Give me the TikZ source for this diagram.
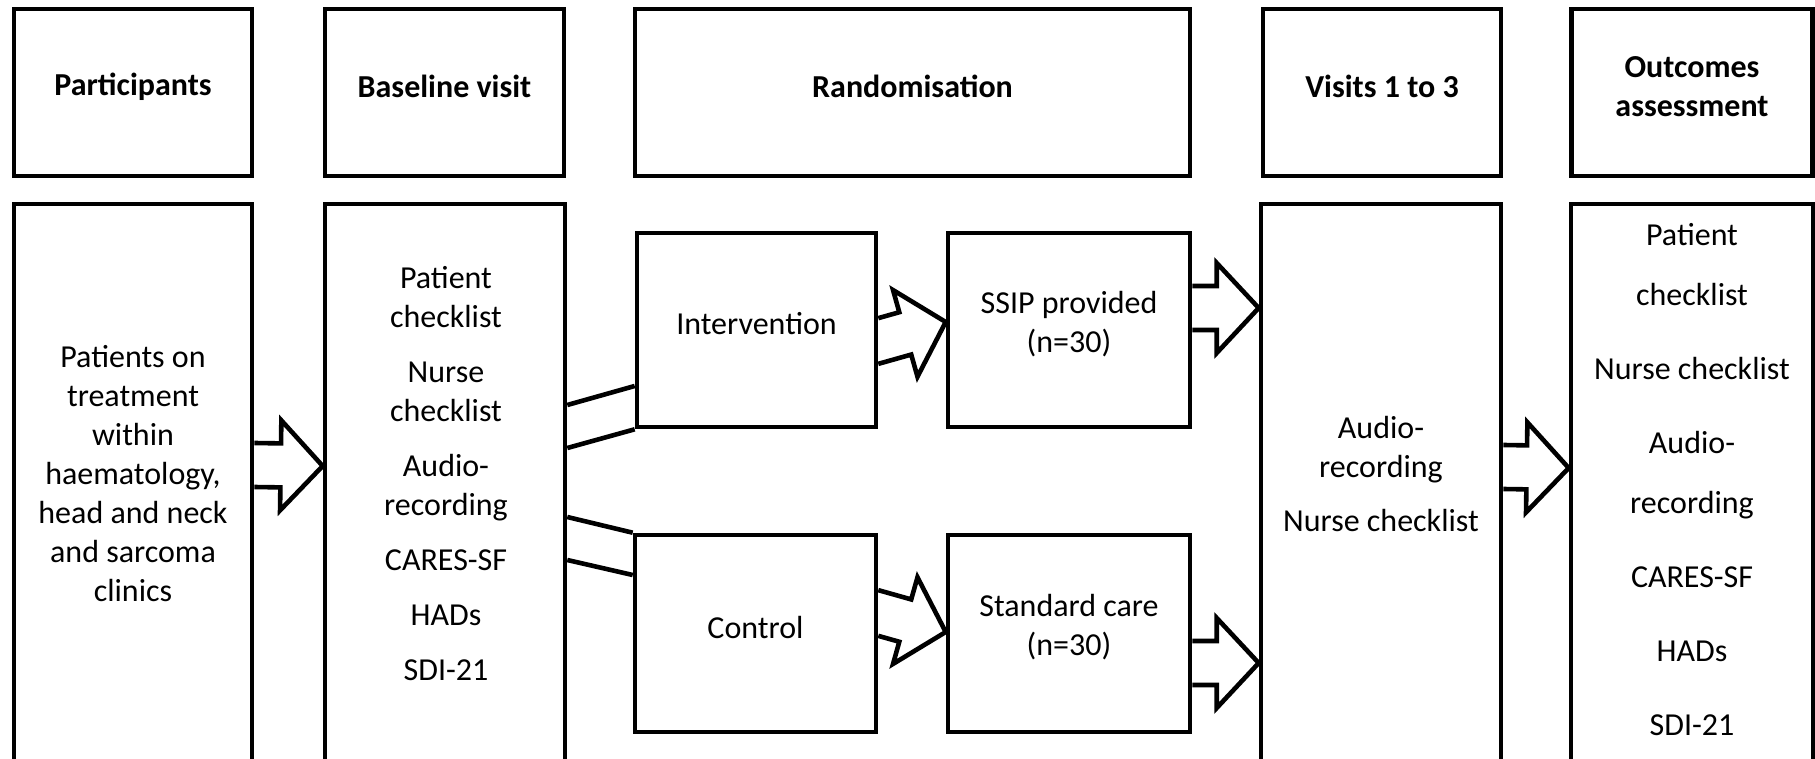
\documentclass[tikz,border=0pt]{standalone}
\usepackage{fontspec}
\setmainfont{Carlito}
\usepackage{tikz}
\usetikzlibrary{calc}

\begin{document}
\begin{tikzpicture}[
    x=0.5pt, y=-0.5pt,
    every node/.style={font=\fontsize{16}{19.5}\selectfont},
    hdr/.style={draw, rectangle, line width=2.3pt, minimum height=83.5pt, inner sep=0pt},
    col/.style={draw, rectangle, line width=2.3pt, minimum height=298pt, inner sep=0pt},
    arm/.style={draw, rectangle, line width=2.3pt, minimum height=97pt, inner sep=0pt},
    txt/.style={align=center, inner sep=0pt},
    htxt/.style={txt, font=\fontsize{16}{19.5}\selectfont\bfseries},
    band/.style={line width=2.3pt},
    fat/.style={line width=2.3pt, line join=miter,
      to path={let \p1=($(\tikztotarget)-(\tikztostart)$),
                   \n1={atan2(\y1,\x1)}, \n2={veclen(\x1,\y1)-21} in
        ($(\tikztostart)+(0pt,{11pt/cos(\n1)})$)
        -- ($(\tikztostart)+(\n1:{\n2*1pt})+({\n1+90}:11pt)$)
        -- ($(\tikztostart)+(\n1:{\n2*1pt})+({\n1+90}:22.5pt)$)
        -- (\tikztotarget)
        -- ($(\tikztostart)+(\n1:{\n2*1pt})+({\n1-90}:22.5pt)$)
        -- ($(\tikztostart)+(\n1:{\n2*1pt})+({\n1-90}:11pt)$)
        -- ($(\tikztostart)-(0pt,{11pt/cos(\n1)})$)}},
]
\useasboundingbox (0,0) rectangle (1815,759);

% column headers
\node[hdr, minimum width=119pt] (hpart) at (133,92.5) {};
\node[hdr, minimum width=119.5pt] (hbase) at (444.5,92.5) {};
\node[hdr, minimum width=277.5pt] (hrand) at (912.5,92.5) {};
\node[hdr, minimum width=119pt] (hvisit) at (1382,92.5) {};
\node[hdr, minimum width=120.5pt] (hout) at (1692,92.5) {};
\node[htxt] (hparttxt) at ([yshift=3pt]hpart.center) {Participants};
\node[htxt] (hbasetxt) at ([yshift=3pt]hbase.center) {Baseline visit};
\node[htxt] (hrandtxt) at ([yshift=3pt]hrand.center) {Randomisation};
\node[htxt] (hvisittxt) at ([yshift=3pt]hvisit.center) {Visits 1 to 3};
\node[htxt] (houttxt) at ([yshift=3pt]hout.center) {Outcomes\\assessment};

% columns (run off the bottom)
\node[col, minimum width=119pt] (part) at (133,502) {};
\node[col, minimum width=120pt] (base) at (445,502) {};
\node[col, minimum width=120pt] (visit) at (1381,502) {};
\node[col, minimum width=121pt] (out) at (1692,502) {};

\node[txt] (parttxt) at (133,474) {Patients on\\treatment\\within\\haematology,\\head and neck\\and sarcoma\\clinics};
\node[txt] (basetxt) at (446,474) {Patient\\checklist\\[8pt]Nurse\\checklist\\[8pt]Audio-\\recording\\[8pt]CARES-SF\\[8pt]HADs\\[8pt]SDI-21};
\node[txt] (visittxt) at (1381,474) {Audio-\\recording\\[7.5pt]Nurse checklist};
\node[txt] (outtxt) at (1692,480) {Patient\\[10.5pt]checklist\\[17.5pt]Nurse checklist\\[17.5pt]Audio-\\[10.5pt]recording\\[17.5pt]CARES-SF\\[17.5pt]HADs\\[17.5pt]SDI-21};

% arms
\node[arm, minimum width=119.5pt] (int) at (756.5,330) {};
\node[arm, minimum width=121pt] (ssip) at (1069,330) {};
\node[arm, minimum width=120.5pt, minimum height=98.5pt] (ctl) at (755.5,633.5) {};
\node[arm, minimum width=121pt, minimum height=98.5pt] (std) at (1069,633.5) {};
\node[txt] (inttxt) at ([yshift=3pt]int.center) {Intervention};
\node[txt] (ssiptxt) at ([yshift=3pt]ssip.center) {SSIP provided\\(n=30)};
\node[txt] (ctltxt) at ([yshift=3pt]ctl.center) {Control};
\node[txt] (stdtxt) at ([yshift=3pt]std.center) {Standard care\\(n=30)};

% arrow ends
\coordinate (pa) at (part.east |- 0,465);
\coordinate (ba) at (base.west |- 0,466);
\coordinate (ia) at (int.east |- 0,341);
\coordinate (sa) at (ssip.west |- 0,322);
\coordinate (ca) at (ctl.east |- 0,613);
\coordinate (ta) at (std.west |- 0,632);
\coordinate (sb) at (ssip.east |- 0,308);
\coordinate (vb) at (visit.west |- 0,308);
\coordinate (tb) at (std.east |- 0,663);
\coordinate (vc) at (visit.west |- 0,663);
\coordinate (va) at (visit.east |- 0,467);
\coordinate (oa) at (out.west |- 0,468);

\draw[fat] (pa) to (ba);
\draw[fat] (ia) to (sa);
\draw[fat] (ca) to (ta);
\draw[fat] (sb) to (vb);
\draw[fat] (tb) to (vc);
\draw[fat] (va) to (oa);

% baseline to arms
\coordinate (b1) at (base.east |- 0,405);
\coordinate (b2) at (base.east |- 0,448);
\coordinate (b3) at (base.east |- 0,517);
\coordinate (b4) at (base.east |- 0,560);
\coordinate (i1) at (int.west |- 0,386);
\coordinate (c4) at (ctl.west |- 0,575);
\draw[band] (b1) -- (i1);
\draw[band] (b2) -- (int.south west);
\draw[band] (b3) -- (ctl.north west);
\draw[band] (b4) -- (c4);
\end{tikzpicture}
\end{document}
